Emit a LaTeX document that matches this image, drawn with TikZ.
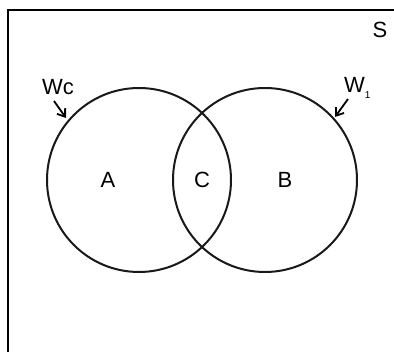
\documentclass[tikz,border=0pt]{standalone}
\usepackage{fontspec}
\setmainfont{Liberation Sans}
\usetikzlibrary{arrows.meta}
\begin{document}
\begin{tikzpicture}[x=1pt,y=-1pt,
  setc/.style={draw=black!90,line width=2pt,circle,minimum size=184pt,inner sep=0pt},
  lbl/.style={font=\fontsize{22}{24}\selectfont,inner sep=0pt},
  ptr/.style={line width=1.8pt,-{Straight Barb[length=7pt,width=10pt]}}]
\useasboundingbox (0,0) rectangle (394,352);
\fill[white] (0,0) rectangle (394,352);
\draw[line width=2.6pt] (8,360) -- (8,10) -- (400,10);
\node[setc] (A) at (139,180) {};
\node[setc] (B) at (265,180) {};
\node[lbl] (la) at (108,180) {A};
\node[lbl] (lc) at (202,180) {C};
\node[lbl] (lb) at (285,180) {B};
\node[lbl] (s) at (380,30) {S};
\node[lbl] (wc) at (58,87) {Wc};
\node[lbl,anchor=west] (w1) at (344,88) {W\raisebox{-0.5ex}{\fontsize{10}{12}\selectfont 1}};
\coordinate (wcs) at (54,101);
\coordinate (wce) at (66,118);
\coordinate (w1s) at (348,99);
\coordinate (w1e) at (335,117);
\draw[ptr] (wcs) -- (wce);
\draw[ptr] (w1s) -- (w1e);
\end{tikzpicture}
\end{document}
